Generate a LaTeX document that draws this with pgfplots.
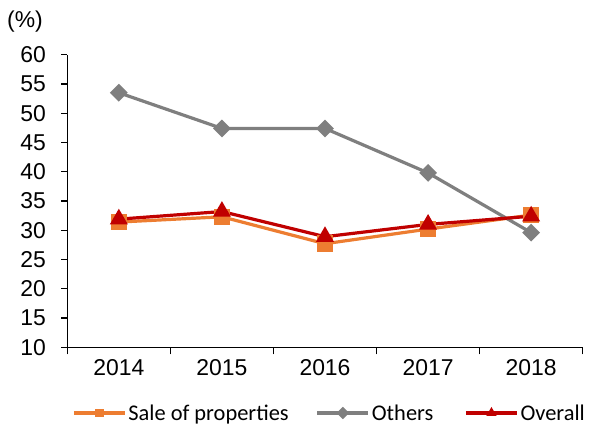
\documentclass[border=0pt]{standalone}
\usepackage{fontspec}
\setmainfont{Liberation Sans}
\newfontfamily\legendfont{Carlito}
\usepackage{pgfplots}
\pgfplotsset{compat=1.18}
\definecolor{cOrange}{HTML}{ED7D31}
\definecolor{cGray}{HTML}{7F7F7F}
\definecolor{cRed}{HTML}{C00000}
\begin{document}
\begin{tikzpicture}
\useasboundingbox (-67.3bp,-79.7bp) rectangle (524.7bp,347.3bp);
\begin{axis}[
  scale only axis,
  width=515.4bp, height=292.6bp,
  xmin=-0.5, xmax=4.5,
  ymin=10, ymax=60,
  axis x line*=bottom, axis y line*=left,
  axis line style={line width=1.3bp, -},
  xtick={0,1,2,3,4},
  xticklabels={2014,2015,2016,2017,2018},
  minor xtick={-0.5,0.5,1.5,2.5,3.5,4.5},
  ytick={10,15,...,60},
  tick align=outside,
  major x tick style={draw=none},
  minor tick length=7bp,
  major tick length=6bp,
  tick style={line width=1.3bp, black},
  ticklabel style={font=\fontsize{23}{27}\selectfont},
  /pgf/number format/assume math mode=true,
  yticklabel style={xshift=-12bp},
  xticklabel style={yshift=-3bp},
  legend columns=3,
  legend style={at={(0.0091,-0.2245)}, anchor=west, draw=none, fill=none, inner sep=0pt,
    font=\legendfont\fontsize{22.5}{26}\selectfont,
    /tikz/every odd column/.append style={column sep=0bp},
    /tikz/column 2/.style={column sep=25bp},
    /tikz/column 4/.style={column sep=29bp}},
  legend image code/.code={\draw[mark repeat=2,mark phase=2,mark size=2.8bp] plot coordinates {(0bp,0bp) (25.5bp,0bp) (51bp,0bp)};},
]
\addplot[cOrange, line width=3.2bp, mark=square*, mark size=6.7bp, mark options={solid}] coordinates {
(0,31.4) (1,32.3) (2,27.7) (3,30.2) (4,32.6)};
\addlegendentry{Sale of properties}
\addplot[cGray, line width=3.2bp, mark=square*, mark size=4.7bp, mark options={rotate=45}] coordinates {
(0,53.5) (1,47.4) (2,47.4) (3,39.8) (4,29.6)};
\addlegendentry{Others}
\addplot[cRed, line width=3.2bp, mark=triangle*, mark size=7.2bp] coordinates {
(0,31.9) (1,33.2) (2,28.9) (3,31.0) (4,32.4)};
\addlegendentry{Overall}
\end{axis}
\node[font=\fontsize{23}{27}\selectfont] at (-42.3bp,325.3bp) {(\%)};
\end{tikzpicture}
\end{document}
